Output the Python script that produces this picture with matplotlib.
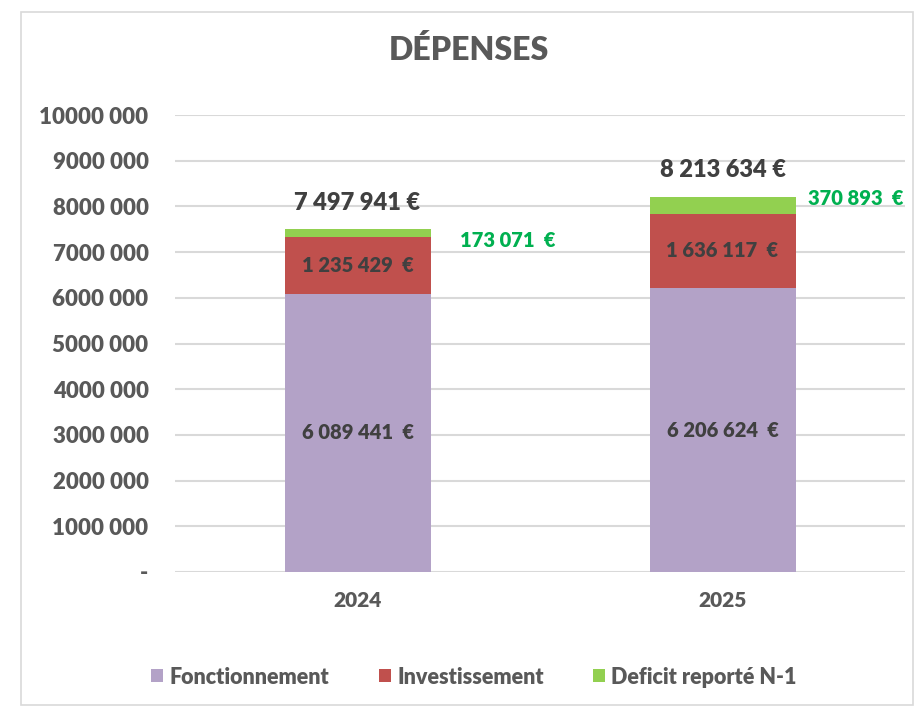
import matplotlib.pyplot as plt
from matplotlib.patches import Rectangle
import numpy as np

years = ["2024", "2025"]
fonctionnement = [6089441, 6206624]
investissement = [1235429, 1636117]
deficit = [173071, 370893]
series_names = ["Fonctionnement", "Investissement", "Deficit reporté N-1"]
yticks = [0, 1000000, 2000000, 3000000, 4000000, 5000000,
          6000000, 7000000, 8000000, 9000000, 10000000]

plt.rcParams['font.family'] = ['Lato', 'DejaVu Sans']
plt.rcParams['font.weight'] = 'heavy'

dark = "#404040"
gray = "#595959"
purple = "#B3A2C7"
red = "#C0504D"
green = "#92D050"


def fmt(v):
    return f"{v:,}".replace(",", " ")


def ytick_fmt(v):
    if v == 0:
        return "-"
    return f"{v // 1000} 000"


fig = plt.figure(figsize=(9.16, 7.10), dpi=100)
fig.patches.append(Rectangle((21 / 916, 5 / 710), 892 / 916, 693 / 710,
                             transform=fig.transFigure, fill=False,
                             edgecolor="#D9D9D9", linewidth=1.2))
ax = fig.add_axes([175 / 916, 1 - 572 / 710, 730 / 916, 457 / 710])

x = np.arange(len(years))
w = 0.40
b1 = ax.bar(x, fonctionnement, w, color=purple, label=series_names[0], zorder=3)
b2 = ax.bar(x, investissement, w, bottom=fonctionnement, color=red,
            label=series_names[1], zorder=3)
bottom3 = [a + b for a, b in zip(fonctionnement, investissement)]
b3 = ax.bar(x, deficit, w, bottom=bottom3, color=green,
            label=series_names[2], zorder=3)

ax.set_xlim(-0.5, 1.5)
ax.set_ylim(0, 10000000)
ax.set_yticks(yticks)
ax.set_yticklabels([ytick_fmt(v) for v in yticks])
ax.set_xticks(x)
ax.set_xticklabels(years)
ax.tick_params(axis='y', length=0, pad=19, labelsize=16, labelcolor=gray)
ax.tick_params(axis='x', length=0, pad=14, labelsize=15, labelcolor=gray)
ax.grid(axis='y', color="#D9D9D9", linewidth=1.5, zorder=0)
for s in ax.spines.values():
    s.set_visible(False)

# labels inside the segments
for i in range(len(years)):
    ax.text(x[i], fonctionnement[i] / 2, f"{fmt(fonctionnement[i])}  €",
            ha='center', va='center', fontsize=14.5, color=dark, zorder=4)
    ax.text(x[i], fonctionnement[i] + investissement[i] / 2,
            f"{fmt(investissement[i])}  €",
            ha='center', va='center', fontsize=14.5, color=dark, zorder=4)
    total = fonctionnement[i] + investissement[i] + deficit[i]
    ax.annotate(f"{fmt(total)} €", (x[i], total), xytext=(0, 19),
                textcoords='offset points', ha='center', va='center',
                fontsize=17, color=dark)

green_dx = [21, 9]
green_dy = [-5, 5]
for i in range(len(years)):
    ax.annotate(f"{fmt(deficit[i])}  €", (x[i] + w / 2, bottom3[i] + deficit[i] / 2),
                xytext=(green_dx[i], green_dy[i]), textcoords='offset points',
                ha='left', va='center', fontsize=14.5, color="#00B050",
                annotation_clip=False)

fig.text(469 / 916, 1 - 50 / 710, "DÉPENSES", ha='center', va='center',
         fontsize=23, color=gray)

fig.legend(handles=[b1, b2, b3], labels=series_names, loc='center',
           bbox_to_anchor=(474 / 916, 1 - 677 / 710), ncol=3, frameon=False,
           fontsize=15.5, labelcolor=gray, handlelength=0.55,
           handleheight=0.55, handletextpad=0.3, columnspacing=2.3)

fig.savefig("out.png", dpi=100)
